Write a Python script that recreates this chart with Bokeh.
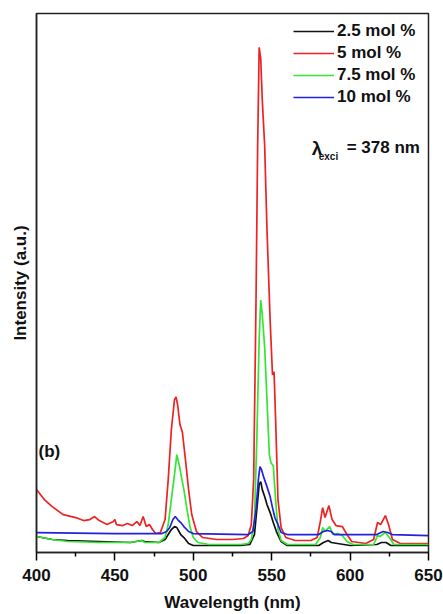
from bokeh.plotting import figure
from bokeh.models import Range1d, FixedTicker, Legend, LegendItem
from bokeh.core.properties import value
from bokeh.embed import file_html
from bokeh.resources import INLINE

# Photoluminescence emission spectra (a.u.) for four dopant concentrations
wl_25 = [400, 410, 420, 440, 460, 467, 469, 478, 482, 484, 486, 488, 489.5, 492, 494, 497, 500,
         530, 536, 539, 540.5, 542, 543, 544, 545.5, 547, 549, 551, 553, 556, 560, 580, 583, 586,
         588, 592, 600, 617, 620, 623, 626, 650]
int_25 = [16, 13, 12, 11, 10, 12, 11, 10, 13, 18, 23, 26, 25, 18, 15, 9, 7,
          7, 8, 18, 43, 68, 71, 63, 56, 48, 40, 30, 21, 11, 7, 7, 10, 12,
          10, 9, 7, 8, 10, 10, 7, 7]

wl_5 = [400, 405, 410, 417, 425, 430, 434, 437, 440, 445, 449, 450, 451, 455, 458, 461, 464, 466,
        468, 470, 472, 474, 476, 479, 482, 484, 486, 488, 489, 490, 491.5, 493, 495, 497, 499, 502,
        506, 515, 525, 532, 535, 537, 538.5, 540, 541, 542, 543, 544, 545.5, 547, 549, 550.5,
        551.5, 552.5, 554, 556, 559, 565, 575, 579, 581, 582.5, 584, 586.5, 588.5, 591, 595, 598,
        601, 610, 615, 617.5, 619.5, 622.5, 624.5, 627, 632, 650]
int_5 = [63, 53, 46, 38, 35, 32, 33, 36, 32, 28, 31, 33, 28, 27, 29, 27, 31, 27,
         36, 26, 28, 23, 19, 20, 33, 73, 123, 153, 156, 148, 128, 121, 93, 63, 38, 21,
         15, 13, 13, 14, 17, 28, 73, 253, 403, 506, 495, 453, 408, 323, 233, 178,
         181, 133, 53, 25, 15, 12, 12, 15, 31, 45, 35, 47, 33, 27, 26, 18,
         11, 9, 13, 30, 28, 37, 28, 13, 9, 9]

wl_75 = [400, 410, 420, 440, 460, 467, 469, 478, 482, 484, 486, 488, 489.5, 491, 492.5, 494, 496,
         498, 500, 503, 510, 530, 535, 537, 539, 540.5, 542, 543, 544, 545.5, 547, 548.5, 549.5,
         551, 552.5, 554, 556, 560, 578, 581, 582.5, 584, 587, 589, 592, 595, 598, 602, 615,
         617.5, 619, 622.5, 625, 628, 650]
int_75 = [16, 13, 11, 10, 10, 12, 10, 10, 15, 28, 53, 78, 98, 88, 75, 63, 43,
          25, 15, 10, 8, 8, 9, 13, 33, 113, 213, 253, 238, 206, 153, 98, 90,
          87, 53, 23, 12, 8, 8, 15, 25, 21, 26, 18, 19, 17, 11, 8, 8,
          17, 16, 20, 15, 8, 8]

wl_10 = [400, 450, 480, 483, 485, 487, 488.5, 490, 492, 494, 497, 500, 535, 538, 540, 541.5, 542.5,
         543.5, 545, 547, 549, 550.5, 552, 553.5, 556, 560, 580, 583, 585.5, 588, 590, 617, 621,
         624, 627, 650]
int_10 = [20, 19, 19, 21, 25, 33, 36, 33, 30, 26, 21, 19, 18, 21, 43, 73, 86,
          83, 75, 66, 56, 45, 35, 30, 20, 18, 18, 21, 22, 21, 18, 18, 21,
          20, 18, 17]

labels = ["2.5 mol %", "5 mol %", "7.5 mol %", "10 mol %"]
colors = ["#111111", "#ee2222", "#33e633", "#2222dd"]
series = [(wl_25, int_25), (wl_5, int_5), (wl_75, int_75), (wl_10, int_10)]

FONT = "Liberation Sans"

p = figure(width=443, height=614, output_backend="svg", toolbar_location=None,
           x_range=Range1d(400, 650), y_range=Range1d(0, 540))
p.min_border_left = 36
p.min_border_right = 15
p.min_border_top = 13
p.min_border_bottom = 61
p.background_fill_color = "white"
p.border_fill_color = "white"
p.outline_line_color = "#222222"
p.outline_line_width = 1.5
p.xgrid.visible = False
p.ygrid.visible = False

items = []
for (x, y), lab, col in zip(series, labels, colors):
    r = p.line(x, y, line_color=col, line_width=1.7)
    items.append(LegendItem(label=lab, renderers=[r]))

# legend anchored by its bottom-left corner, in frame pixels
legend = Legend(items=items, location=(257, 445), padding=0, margin=0, spacing=2,
                glyph_width=41, glyph_height=20, label_height=20, label_standoff=3,
                border_line_color=None, background_fill_alpha=0,
                label_text_font=FONT, label_text_font_style="bold",
                label_text_font_size="17px", label_text_color="#111111")
p.add_layout(legend, "center")

# x axis
xa = p.xaxis[0]
xa.ticker = FixedTicker(ticks=[400, 450, 500, 550, 600, 650],
                        minor_ticks=[425, 475, 525, 575, 625])
xa.axis_label = "Wavelength (nm)"
xa.axis_label_text_font = FONT
xa.axis_label_text_font_style = "bold"
xa.axis_label_text_font_size = "17px"
xa.axis_label_text_color = "#111111"
xa.axis_label_standoff = 9
xa.major_label_text_font = FONT
xa.major_label_text_font_style = "bold"
xa.major_label_text_font_size = "17px"
xa.major_label_text_color = "#111111"
xa.major_label_standoff = 8
xa.major_tick_in = 0
xa.major_tick_out = 8
xa.minor_tick_in = 0
xa.minor_tick_out = 4
xa.axis_line_width = 1.5
xa.major_tick_line_width = 1.5
xa.minor_tick_line_width = 1.5
xa.axis_line_color = "#222222"

# y axis: label only
ya = p.yaxis[0]
ya.ticker = FixedTicker(ticks=[])
ya.axis_label = "Intensity (a.u.)"
ya.axis_label_text_font = FONT
ya.axis_label_text_font_style = "bold"
ya.axis_label_text_font_size = "17px"
ya.axis_label_text_color = "#111111"
ya.axis_label_standoff = 7
ya.axis_line_color = "#222222"
ya.axis_line_width = 1.5
ya.major_label_text_font_size = "0px"

# annotations
p.text(x=[401.3], y=[101], text=["(b)"], text_font=value(FONT), text_font_style="bold",
       text_font_size="17px", text_color="#111111", text_baseline="alphabetic")
p.text(x=[575.6], y=[405], text=["λ"], text_font=value(FONT), text_font_style="bold",
       text_font_size="19px", text_color="#111111", text_baseline="alphabetic")
p.text(x=[580.0], y=[397], text=["exci"], text_font=value(FONT), text_font_style="bold",
       text_font_size="10px", text_color="#111111", text_baseline="alphabetic")
p.text(x=[597.8], y=[406], text=["= 378 nm"], text_font=value(FONT), text_font_style="bold",
       text_font_size="17px", text_color="#111111", text_baseline="alphabetic")

open("out.html", "w").write(file_html(p, INLINE))
